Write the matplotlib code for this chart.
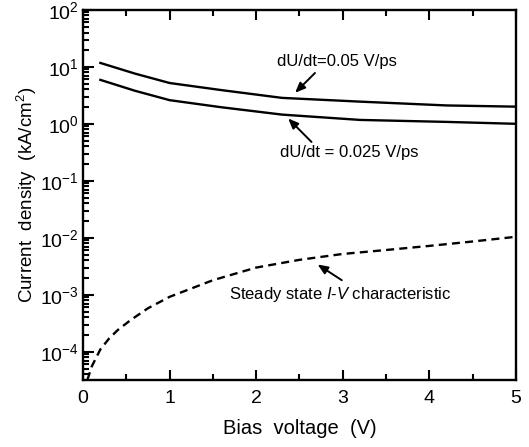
import numpy as np
import matplotlib
matplotlib.use('Agg')
import matplotlib.pyplot as plt
from matplotlib.ticker import LogLocator, LogFormatterMathtext, MultipleLocator, NullFormatter

plt.rcParams['font.family'] = ['Liberation Sans', 'DejaVu Sans']
plt.rcParams['mathtext.fontset'] = 'custom'
plt.rcParams['mathtext.rm'] = 'Liberation Sans'
plt.rcParams['mathtext.it'] = 'Liberation Sans:italic'
plt.rcParams['axes.unicode_minus'] = False

# transient current at two ramp rates
v_fast = [0.2, 0.6, 1.0, 1.6, 2.3, 3.2, 4.2, 5.0]
j_fast = [11.7, 7.6, 5.2, 3.9, 2.85, 2.45, 2.1, 2.0]
v_slow = [0.2, 0.6, 1.0, 1.6, 2.3, 3.2, 4.2, 5.0]
j_slow = [5.9, 3.8, 2.6, 1.95, 1.45, 1.17, 1.08, 1.0]

# steady state I-V curve
v_ss = [0.05, 0.1, 0.2, 0.3, 0.4, 0.55, 0.75, 1.0, 1.5, 2.0, 2.5, 3.0, 3.5, 4.0, 4.5, 5.0]
j_ss = [3.2e-5, 5.5e-5, 1.1e-4, 1.7e-4, 2.4e-4, 3.6e-4, 5.8e-4, 9.2e-4, 1.8e-3, 3.0e-3,
        4.1e-3, 5.2e-3, 6.1e-3, 7.2e-3, 8.6e-3, 1.04e-2]

y_major = [1e-4, 1e-3, 1e-2, 1e-1, 1e0, 1e1, 1e2]

fig = plt.figure(figsize=(5.29, 4.47), dpi=100)
ax = fig.add_axes([0.157, 0.150, 0.818, 0.828])

ax.plot(v_fast, j_fast, color='black', lw=1.7)
ax.plot(v_slow, j_slow, color='black', lw=1.7)
ax.plot(v_ss, j_ss, color='black', lw=1.7, linestyle=(0, (3.4, 2.2)))

ax.set_yscale('log')
ax.set_xlim(0, 5)
ax.set_ylim(3.2e-5, 100)

ax.xaxis.set_major_locator(MultipleLocator(1))
ax.xaxis.set_minor_locator(MultipleLocator(0.5))
ax.set_yticks(y_major)
ax.yaxis.set_minor_locator(LogLocator(base=10, subs=np.arange(2, 10), numticks=20))
ax.yaxis.set_major_formatter(LogFormatterMathtext())
ax.yaxis.set_minor_formatter(NullFormatter())

ax.tick_params(axis='x', which='both', direction='in', top=True, bottom=True, width=1.5, labelsize=14, pad=7)
ax.tick_params(axis='x', which='major', length=7)
ax.tick_params(axis='x', which='minor', length=4)
ax.tick_params(axis='y', which='both', direction='in', left=True, right=False, width=1.5, labelsize=14, pad=3)
ax.tick_params(axis='y', which='major', length=8)
ax.tick_params(axis='y', which='minor', length=4)
for s in ax.spines.values():
    s.set_linewidth(1.7)

ax.set_xlabel('Bias  voltage  (V)', fontsize=14.5, labelpad=9)
ax.set_ylabel('Current  density  (kA/cm$^{2}$)', fontsize=13.5, labelpad=1)

arrow = dict(arrowstyle='-|>,head_length=0.6,head_width=0.25', color='black', lw=1.4,
             shrinkA=0, shrinkB=0)

# labels and their pointer arrows
ax.text(2.93, 12.3, 'dU/dt=0.05 V/ps', fontsize=12, ha='center', va='center')
ax.annotate('', xy=(2.45, 3.5), xytext=(2.68, 7.8), arrowprops=arrow)

ax.text(3.08, 0.32, 'dU/dt = 0.025 V/ps', fontsize=12, ha='center', va='center')
ax.annotate('', xy=(2.37, 1.24), xytext=(2.64, 0.48), arrowprops=arrow)

ax.text(1.69, 1.0e-3, 'Steady state $I$-$V$ characteristic', fontsize=12, ha='left', va='center')
ax.annotate('', xy=(2.71, 3.4e-3), xytext=(2.99, 1.8e-3), arrowprops=arrow)

fig.savefig('out.png', dpi=100)
